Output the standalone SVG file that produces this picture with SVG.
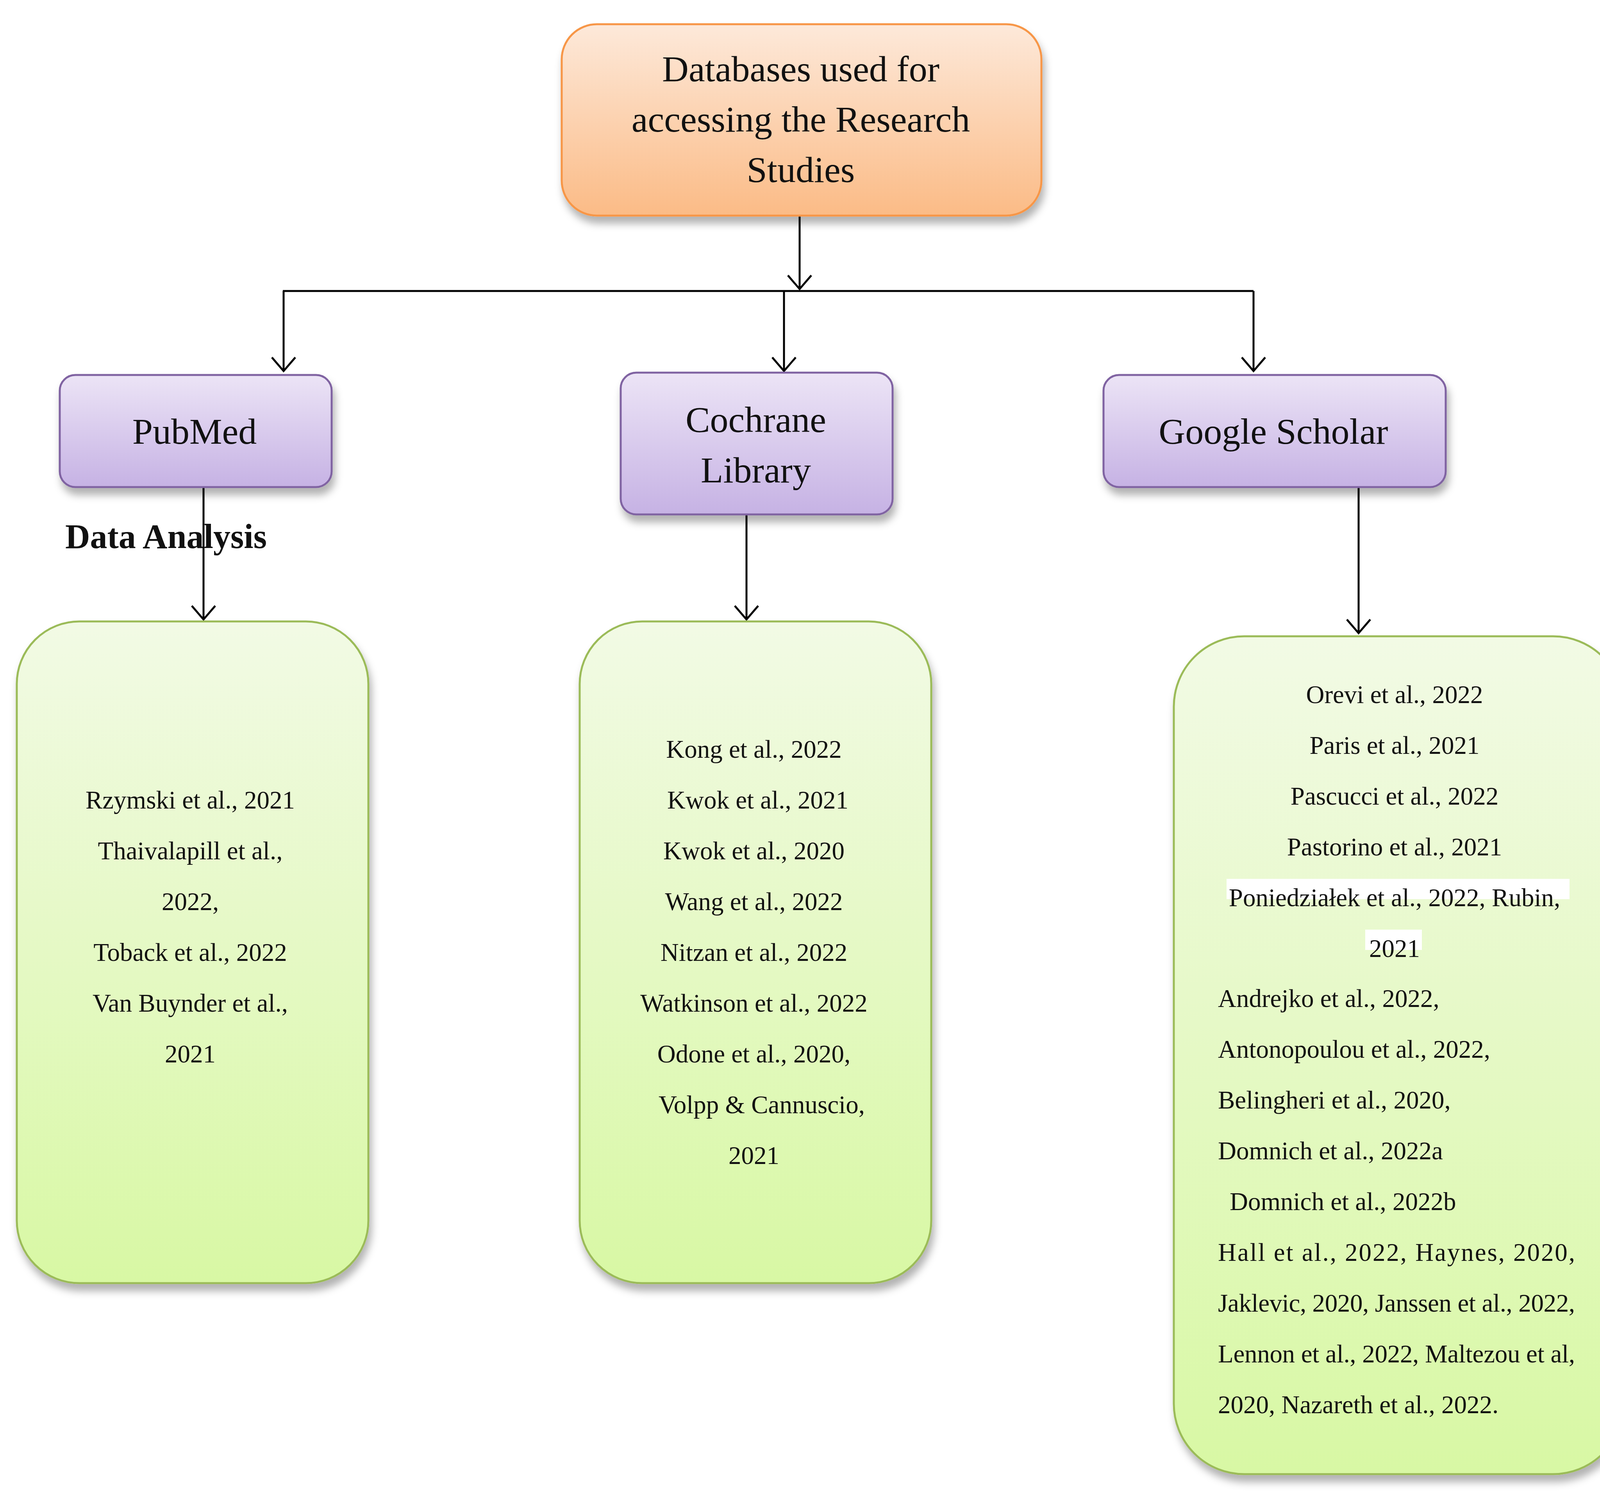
<svg xmlns="http://www.w3.org/2000/svg" width="4201" height="3830" viewBox="0 0 4201 3830">
<defs>
<linearGradient id="go" x1="0" y1="0" x2="0" y2="1"><stop offset="0" stop-color="#fde9da"/><stop offset="1" stop-color="#fbbb86"/></linearGradient>
<linearGradient id="gp" x1="0" y1="0" x2="0" y2="1"><stop offset="0" stop-color="#ece4f6"/><stop offset="1" stop-color="#c6b2e4"/></linearGradient>
<linearGradient id="gg" x1="0" y1="0" x2="0" y2="1"><stop offset="0" stop-color="#f2fae5"/><stop offset="1" stop-color="#d8f8a4"/></linearGradient>
<filter id="sh" x="-10%" y="-10%" width="125%" height="130%"><feDropShadow dx="6" dy="18" stdDeviation="10" flood-color="#000" flood-opacity="0.3"/></filter>
</defs>
<style>
text{font-family:"Liberation Serif","Times New Roman",serif;fill:#111}
.t{font-size:94px;text-anchor:middle}
.s{font-size:65px}
.c{text-anchor:middle}
.ln{stroke:#000;stroke-width:5;fill:none}
</style>
<rect width="4201" height="3830" fill="#fff"/>
<g id="connectors">
<line class="ln" x1="2047" y1="554" x2="2047" y2="740"/>
<line class="ln" x1="724" y1="745" x2="3209" y2="745"/>
<line class="ln" x1="726" y1="745" x2="726" y2="950"/>
<line class="ln" x1="2007" y1="745" x2="2007" y2="950"/>
<line class="ln" x1="3209" y1="745" x2="3209" y2="950"/>
<line class="ln" x1="521" y1="1247" x2="521" y2="1586"/>
<line class="ln" x1="1911" y1="1317" x2="1911" y2="1586"/>
<line class="ln" x1="3478" y1="1247" x2="3478" y2="1621"/>
<g class="ln">
<path d="M2017,705 L2047,740 L2077,705"/>
<path d="M696,915 L726,950 L756,915"/>
<path d="M1977,915 L2007,950 L2037,915"/>
<path d="M3179,915 L3209,950 L3239,915"/>
<path d="M491,1551 L521,1586 L551,1551"/>
<path d="M1881,1551 L1911,1586 L1941,1551"/>
<path d="M3448,1586 L3478,1621 L3508,1586"/>
</g>
</g>
<g id="root">
<rect x="1438" y="62" width="1228" height="490" rx="90" fill="url(#go)" stroke="#f79646" stroke-width="5" filter="url(#sh)"/>
<text class="t" x="2050" y="208">Databases used for</text>
<text class="t" x="2050" y="337">accessing the Research</text>
<text class="t" x="2050" y="466">Studies</text>
</g>
<g id="pubmed">
<rect x="153" y="960" width="696" height="287" rx="40" fill="url(#gp)" stroke="#8064a2" stroke-width="5" filter="url(#sh)"/>
<text class="t" x="498" y="1136">PubMed</text>
</g>
<g id="cochrane">
<rect x="1589" y="954" width="696" height="363" rx="40" fill="url(#gp)" stroke="#8064a2" stroke-width="5" filter="url(#sh)"/>
<text class="t" x="1935" y="1106">Cochrane</text>
<text class="t" x="1935" y="1235">Library</text>
</g>
<g id="scholar">
<rect x="2825" y="960" width="876" height="287" rx="40" fill="url(#gp)" stroke="#8064a2" stroke-width="5" filter="url(#sh)"/>
<text class="t" x="3260" y="1136">Google Scholar</text>
</g>
<text x="167" y="1403" style="font-size:88px;font-weight:bold">Data Analysis</text>
<g id="pubmed-list">
<rect x="43" y="1591" width="900" height="1694" rx="160" fill="url(#gg)" stroke="#9bbb59" stroke-width="5" filter="url(#sh)"/>
<g class="s">
<text class="c" x="487" y="2070">Rzymski  et al., 2021</text>
<text class="c" x="487" y="2200">Thaivalapill  et al.,</text>
<text class="c" x="487" y="2330">2022,</text>
<text class="c" x="487" y="2460">Toback  et al., 2022</text>
<text class="c" x="487" y="2590">Van Buynder  et al.,</text>
<text class="c" x="487" y="2720">2021</text>
</g>
</g>
<g id="cochrane-list">
<rect x="1484" y="1591" width="900" height="1694" rx="160" fill="url(#gg)" stroke="#9bbb59" stroke-width="5" filter="url(#sh)"/>
<g class="s">
<text class="c" x="1930" y="1940">Kong et al., 2022</text>
<text class="c" x="1940" y="2070">Kwok et al., 2021</text>
<text class="c" x="1930" y="2200">Kwok et al., 2020</text>
<text class="c" x="1930" y="2330">Wang et al., 2022</text>
<text class="c" x="1930" y="2460">Nitzan et al., 2022</text>
<text class="c" x="1930" y="2590">Watkinson et al., 2022</text>
<text class="c" x="1930" y="2720">Odone et al., 2020,</text>
<text class="c" x="1950" y="2850">Volpp &amp; Cannuscio,</text>
<text class="c" x="1930" y="2980">2021</text>
</g>
</g>
<g id="scholar-list">
<rect x="3005" y="1629" width="1151" height="2145" rx="180" fill="url(#gg)" stroke="#9bbb59" stroke-width="5" filter="url(#sh)"/>
<rect x="3140" y="2250" width="878" height="52" fill="#fff"/>
<rect x="3495" y="2380" width="145" height="52" fill="#fff"/>
<g class="s">
<text class="c" x="3570" y="1800">Orevi et al., 2022</text>
<text class="c" x="3570" y="1930">Paris et al., 2021</text>
<text class="c" x="3570" y="2060">Pascucci et al., 2022</text>
<text class="c" x="3570" y="2190">Pastorino et al., 2021</text>
<text class="c" x="3570" y="2320">Poniedziałek et al., 2022, Rubin,</text>
<text class="c" x="3570" y="2450">2021</text>
<text x="3118" y="2578">Andrejko et al., 2022,</text>
<text x="3118" y="2708">Antonopoulou et al., 2022,</text>
<text x="3118" y="2838">Belingheri et al., 2020,</text>
<text x="3118" y="2968">Domnich et al., 2022a</text>
<text x="3148" y="3098">Domnich et al., 2022b</text>
<text x="3118" y="3228" textLength="914" lengthAdjust="spacing">Hall  et  al.,  2022,  Haynes,  2020,</text>
<text x="3118" y="3358" textLength="914" lengthAdjust="spacing">Jaklevic, 2020, Janssen et al., 2022,</text>
<text x="3118" y="3488" textLength="914" lengthAdjust="spacing">Lennon et al., 2022, Maltezou et al,</text>
<text x="3118" y="3618">2020, Nazareth et al., 2022.</text>
</g>
</g>
</svg>
